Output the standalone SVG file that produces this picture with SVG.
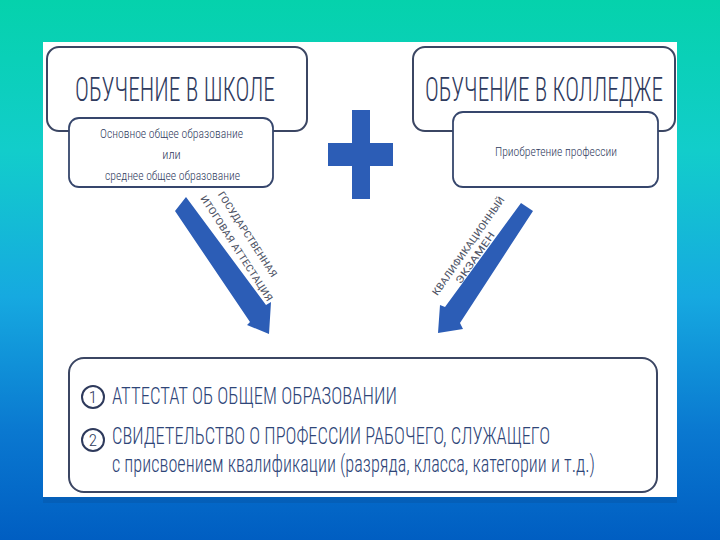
<svg xmlns="http://www.w3.org/2000/svg" width="720" height="540" viewBox="0 0 720 540">
<defs>
<linearGradient id="bg" x1="0" y1="0" x2="0" y2="1">
<stop offset="0" stop-color="#05D2AC"/>
<stop offset="0.28" stop-color="#12CDCB"/>
<stop offset="0.55" stop-color="#16A9E0"/>
<stop offset="0.8" stop-color="#0A78D0"/>
<stop offset="1" stop-color="#005EC2"/>
</linearGradient>
<style>
.box{fill:#fff;stroke:#3b4663;stroke-width:2}
.sub{fill:#fff;stroke:#36466c;stroke-width:1.8}
.title{font-family:"Liberation Sans Narrow","Roboto Condensed","Liberation Sans",sans-serif;font-weight:300;font-size:33px;fill:#2f3b5e}
.small{font-family:"Liberation Sans Narrow","Roboto Condensed","Liberation Sans",sans-serif;font-weight:300;font-size:12.5px;fill:#2f3b5e;text-anchor:middle}
.big{font-family:"Liberation Sans Narrow","Roboto Condensed","Liberation Sans",sans-serif;font-weight:300;font-size:23px;fill:#2e4578}
.num{font-family:"Liberation Sans Narrow","Roboto Condensed","Liberation Sans",sans-serif;font-weight:300;font-size:17px;fill:#2e3a5c;text-anchor:middle}
.lbl{font-family:"Liberation Sans Narrow","Roboto Condensed","Liberation Sans",sans-serif;font-size:10px;fill:#505566;text-anchor:middle}
.blue{fill:#2C5DB6}
.circ{fill:#fff;stroke:#2e3a5c;stroke-width:2}
</style>
</defs>
<rect x="0" y="0" width="720" height="540" fill="url(#bg)"/>
<rect x="43" y="45" width="634" height="458" fill="#0a4f9f" opacity="0.35"/>
<rect x="43" y="42" width="634" height="455" fill="#fff"/>

<g id="school">
<rect class="box" x="47" y="47" width="260" height="84" rx="12"/>
<text class="title" x="75" y="101" textLength="200" lengthAdjust="spacingAndGlyphs">ОБУЧЕНИЕ В ШКОЛЕ</text>
</g>
<g id="school-sub">
<rect class="sub" x="69" y="118" width="204" height="69" rx="10"/>
<text class="small" x="171.5" y="137.5" textLength="143" lengthAdjust="spacingAndGlyphs">Основное общее образование</text>
<text class="small" x="171.5" y="158.5">или</text>
<text class="small" x="172.5" y="179.5" textLength="135" lengthAdjust="spacingAndGlyphs">среднее общее образование</text>
</g>

<g id="college">
<rect class="box" x="413" y="47" width="262" height="84" rx="12"/>
<text class="title" x="425" y="101" textLength="238" lengthAdjust="spacingAndGlyphs">ОБУЧЕНИЕ В КОЛЛЕДЖЕ</text>
</g>
<g id="college-sub">
<rect class="sub" x="453" y="112" width="205" height="75" rx="10"/>
<text class="small" x="556" y="156" textLength="122" lengthAdjust="spacingAndGlyphs">Приобретение профессии</text>
</g>

<g id="plus">
<rect class="blue" x="352" y="110" width="18" height="89"/>
<rect class="blue" x="328" y="143" width="65" height="23"/>
</g>

<g id="connectors">
<g id="arrow-left">
<polygon class="blue" points="175,211 186,197 266,305 271,302 269,334 247,325 250,322"/>
<text class="lbl" transform="translate(244.6,236.2) rotate(57)" textLength="100" lengthAdjust="spacingAndGlyphs">ГОСУДАРСТВЕННАЯ</text>
<text class="lbl" transform="translate(233.8,250.2) rotate(57)" textLength="124" lengthAdjust="spacingAndGlyphs">ИТОГОВАЯ АТТЕСТАЦИЯ</text>
</g>
<g id="arrow-right">
<polygon class="blue" points="521,203 533,211 460,323 463,329 438,333 440,305 445,307"/>
<text class="lbl" transform="translate(471.2,248) rotate(-55)" textLength="118" lengthAdjust="spacingAndGlyphs">КВАЛИФИКАЦИОННЫЙ</text>
<text class="lbl" transform="translate(477.9,259.8) rotate(-55)" textLength="61" lengthAdjust="spacingAndGlyphs">ЭКЗАМЕН</text>
</g>
</g>

<g id="result">
<rect class="box" x="69" y="358" width="588" height="134" rx="15"/>
<circle class="circ" cx="93" cy="397" r="11"/>
<text class="num" x="93" y="403">1</text>
<circle class="circ" cx="93" cy="440" r="11"/>
<text class="num" x="93" y="446">2</text>
<text class="big" x="112" y="404" textLength="285" lengthAdjust="spacingAndGlyphs">АТТЕСТАТ ОБ ОБЩЕМ ОБРАЗОВАНИИ</text>
<text class="big" x="112" y="444" textLength="438" lengthAdjust="spacingAndGlyphs">СВИДЕТЕЛЬСТВО О ПРОФЕССИИ РАБОЧЕГО, СЛУЖАЩЕГО</text>
<text class="big" x="112" y="472" textLength="483" lengthAdjust="spacingAndGlyphs">с присвоением квалификации (разряда, класса, категории и т.д.)</text>
</g>
</svg>
